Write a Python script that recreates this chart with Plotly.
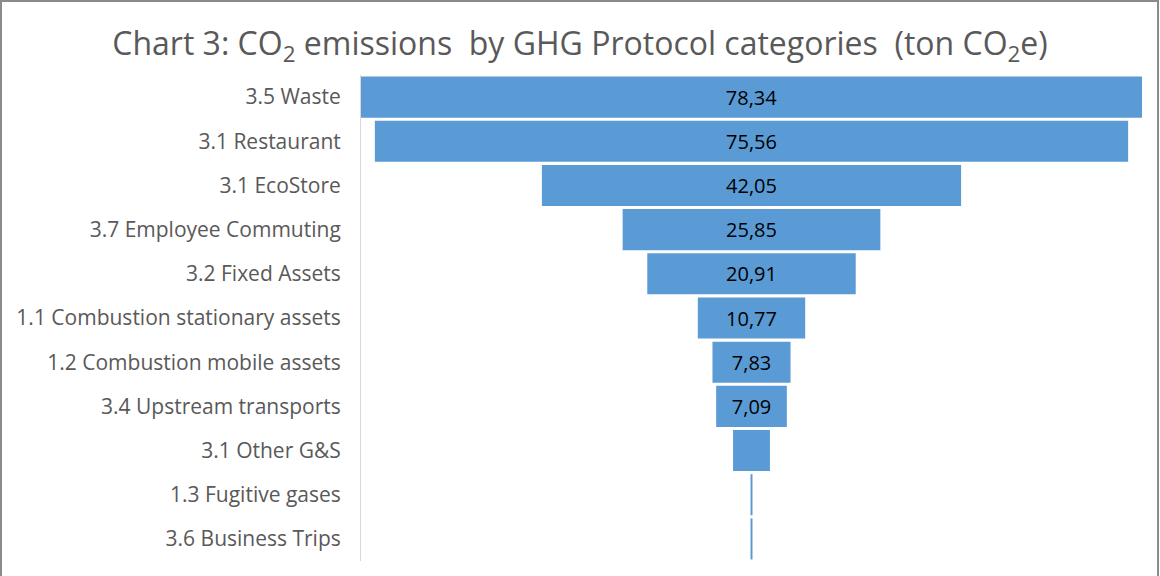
import plotly.graph_objects as go

categories = [
    "3.5 Waste",
    "3.1 Restaurant",
    "3.1 EcoStore",
    "3.7 Employee Commuting",
    "3.2 Fixed Assets",
    "1.1 Combustion stationary assets",
    "1.2 Combustion mobile assets",
    "3.4 Upstream transports",
    "3.1 Other G&S",
    "1.3 Fugitive gases",
    "3.6 Business Trips",
]
values = [78.34, 75.56, 42.05, 25.85, 20.91, 10.77, 7.83, 7.09, 3.7, 0.2, 0.2]
value_labels = ["78,34", "75,56", "42,05", "25,85", "20,91", "10,77", "7,83", "7,09", "", "", ""]

W, H = 1160, 576
ml, mr, mt, mb = 361, 18, 75, 15
pw = W - ml - mr
ph = H - mt - mb

FONT = "Open Sans"
GREY = "#595959"

fig = go.Figure(go.Funnel(
    y=categories,
    x=values,
    text=value_labels,
    textinfo="text",
    textposition="inside",
    insidetextfont=dict(family=FONT, size=20, color="#000000"),
    constraintext="none",
    marker=dict(color="#5b9bd5", line=dict(width=0)),
    connector=dict(visible=False),
    hoverinfo="y+x",
))

half = max(values) / 2
fig.update_layout(
    width=W, height=H,
    margin=dict(l=ml, r=mr, t=mt, b=mb, autoexpand=False),
    paper_bgcolor="white",
    plot_bgcolor="white",
    funnelgap=0.07,
    showlegend=False,
    title=dict(
        text="Chart 3: CO<sub>2</sub> emissions  by GHG Protocol categories  (ton CO<sub>2</sub>e)",
        x=0.5, xref="container", xanchor="center",
        y=1 - 44 / H, yref="container", yanchor="middle",
        font=dict(family=FONT, size=32, color=GREY),
    ),
    xaxis=dict(visible=False, range=[-half, half], fixedrange=True),
    yaxis=dict(
        showline=True, linecolor="#d9d9d9", linewidth=1,
        showgrid=False, zeroline=False, automargin=False,
        tickfont=dict(family=FONT, size=21, color=GREY),
        ticklabelstandoff=15,
    ),
    shapes=[
        dict(type="rect", xref="paper", yref="paper",
             x0=(1 - ml) / pw, x1=(1158 - ml) / pw,
             y0=(H - mb - 580) / ph, y1=(H - mb - 1) / ph,
             line=dict(color="#8a8a8a", width=2), fillcolor="rgba(0,0,0,0)"),
    ],
)

fig.write_html("out.html", config={"displayModeBar": False},
               post_script="document.body.style.margin='0';")
